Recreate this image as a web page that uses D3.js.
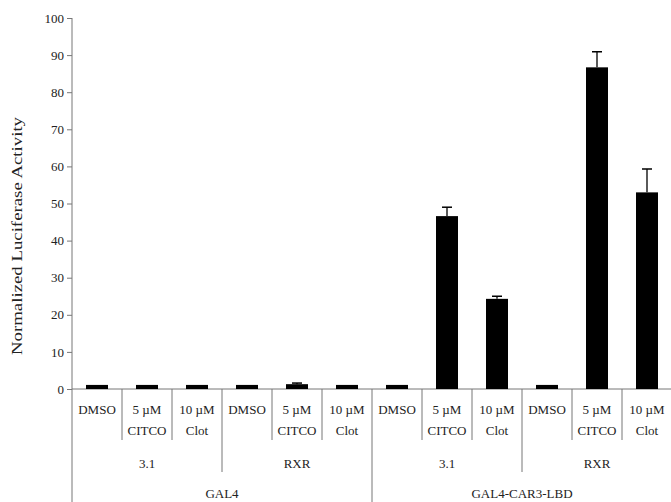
<!DOCTYPE html>
<html><head><meta charset="utf-8">
<script src="https://cdn.jsdelivr.net/npm/d3@7"></script>
<style>body{margin:0;background:#fff}</style>
</head><body>
<svg id="c" width="671" height="502"></svg>
<script>
const treatLine1 = ["DMSO","5 µM","10 µM","DMSO","5 µM","10 µM","DMSO","5 µM","10 µM","DMSO","5 µM","10 µM"];
const treatLine2 = ["","CITCO","Clot","","CITCO","Clot","","CITCO","Clot","","CITCO","Clot"];
const partners = ["3.1","RXR","3.1","RXR"];
const constructs = ["GAL4","GAL4-CAR3-LBD"];
const values = [1.1, 1.1, 1.1, 1.1, 1.3, 1.1, 1.1, 46.6, 24.3, 1.1, 86.7, 53.0];
const errors = [0, 0, 0, 0, 0.3, 0, 0, 2.4, 0.7, 0, 4.2, 6.3];
const yTicks = [0,10,20,30,40,50,60,70,80,90,100];
const yTitle = "Normalized Luciferase Activity";

const FONT = "'Liberation Serif', 'Times New Roman', Tinos, 'DejaVu Serif', serif";
const svg = d3.select("#c");
const idx = d3.range(values.length);
const x = d3.scaleBand().domain(idx).range([72, 672]).padding(0);
const y = d3.scaleLinear().domain([0, 100]).range([389, 18]);
const bw = x.bandwidth() * 0.44;
const lineCol = "#777";

// y axis
const ya = svg.append("g").attr("transform","translate(72,0)")
  .call(d3.axisLeft(y).tickValues(yTicks).tickSize(5).tickPadding(3));
ya.select(".domain").remove();
ya.selectAll(".tick line").attr("stroke", lineCol);
ya.selectAll(".tick text").style("font-size","13px");
svg.append("line").attr("x1",72).attr("x2",72).attr("y1",y(100)).attr("y2",502).attr("stroke",lineCol);
svg.append("line").attr("x1",72).attr("x2",672).attr("y1",y(0)).attr("y2",y(0)).attr("stroke",lineCol);

// bars
svg.selectAll("rect.bar").data(idx).enter().append("rect")
  .attr("x", i => x(i) + (x.bandwidth() - bw)/2)
  .attr("width", bw)
  .attr("y", i => y(values[i]))
  .attr("height", i => y(0) - y(values[i]))
  .attr("fill", "#000");

// error bars
const eb = idx.filter(i => errors[i] > 0);
svg.selectAll("line.err").data(eb).enter().append("line")
  .attr("x1", i => x(i) + x.bandwidth()/2).attr("x2", i => x(i) + x.bandwidth()/2)
  .attr("y1", i => y(values[i])).attr("y2", i => y(values[i] + errors[i]))
  .attr("stroke","#000").attr("stroke-width",1.3);
svg.selectAll("line.cap").data(eb).enter().append("line")
  .attr("x1", i => x(i) + x.bandwidth()/2 - 5).attr("x2", i => x(i) + x.bandwidth()/2 + 5)
  .attr("y1", i => y(values[i] + errors[i])).attr("y2", i => y(values[i] + errors[i]))
  .attr("stroke","#000").attr("stroke-width",1.5);

// category dividers
d3.range(1, values.length + 1).forEach(k => {
  const xx = x.range()[0] + k * x.bandwidth();
  let y2 = 440;
  if (k % 6 === 0) y2 = 502; else if (k % 3 === 0) y2 = 472;
  svg.append("line").attr("x1",xx).attr("x2",xx).attr("y1",y(0)).attr("y2",y2).attr("stroke",lineCol);
});

// labels
const cx = i => x(i) + x.bandwidth()/2;
svg.selectAll("text.t1").data(idx).enter().append("text")
  .attr("x", cx).attr("y", 414).attr("text-anchor","middle").style("font-size","13px").text(i => treatLine1[i]);
svg.selectAll("text.t2").data(idx).enter().append("text")
  .attr("x", cx).attr("y", 435).attr("text-anchor","middle").style("font-size","13px").text(i => treatLine2[i]);
svg.selectAll("text.p").data(partners).enter().append("text")
  .attr("x", (d,j) => x(j*3) + 1.5*x.bandwidth()).attr("y", 468).attr("text-anchor","middle").style("font-size","13px").text(d => d);
svg.selectAll("text.g").data(constructs).enter().append("text")
  .attr("x", (d,j) => x(j*6) + 3*x.bandwidth()).attr("y", 498).attr("text-anchor","middle").style("font-size","13px").text(d => d);

// y title
svg.append("text").attr("transform","translate(22,236) rotate(-90)")
  .attr("text-anchor","middle").style("font-size","14px")
  .attr("textLength",238).attr("lengthAdjust","spacingAndGlyphs").text(yTitle);

svg.selectAll("text").style("font-family", FONT).attr("fill", "#222");
</script>
</body></html>
